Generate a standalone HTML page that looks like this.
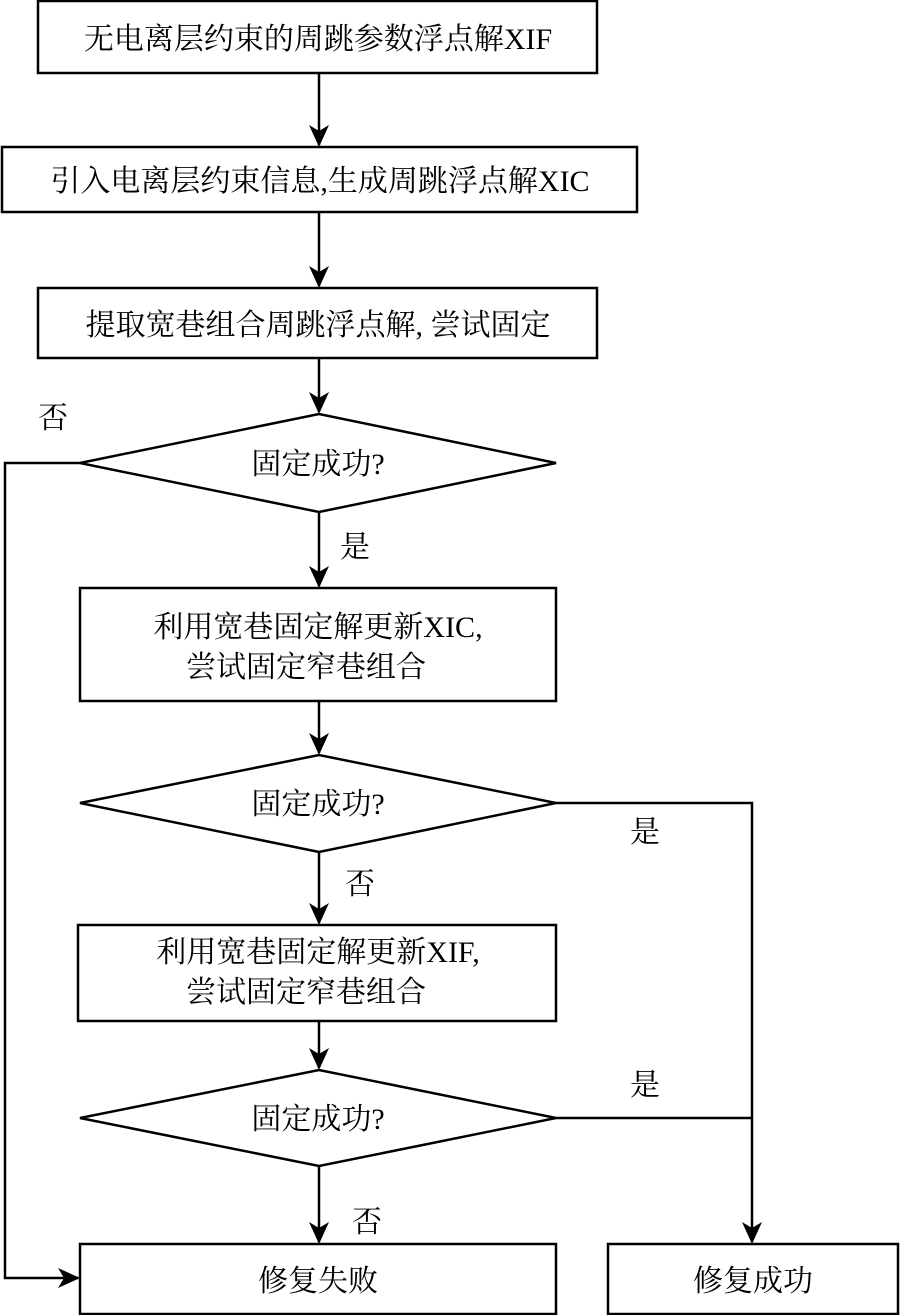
<!DOCTYPE html>
<html><head><meta charset="utf-8"><style>
html,body{margin:0;padding:0;background:#fff;}
svg{display:block;}
text{font-family:"Liberation Serif","Noto Serif CJK SC","Noto Sans CJK SC",serif;font-size:30px;fill:#000;}
</style></head><body>
<svg width="900" height="1315" viewBox="0 0 900 1315" xmlns="http://www.w3.org/2000/svg">
<defs>
<marker id="a" markerWidth="24" markerHeight="24" refX="20" refY="12" orient="auto" markerUnits="userSpaceOnUse">
<path d="M0,2 L22,12 L0,22 L6,12 Z" fill="#000"/>
</marker>
</defs>
<g fill="none" stroke="#000" stroke-width="2.5">
<rect x="38" y="1" width="559" height="72"/>
<rect x="2" y="147" width="635" height="65"/>
<rect x="38" y="288" width="559" height="70"/>
<polygon points="80,463 319,414 556,463 319,512"/>
<rect x="80" y="588" width="476" height="113"/>
<polygon points="80,803 319,755 556,803 319,852"/>
<rect x="78" y="925" width="478" height="96"/>
<polygon points="80,1118 319,1070 556,1118 319,1166"/>
<rect x="80" y="1244" width="476" height="70"/>
<rect x="608" y="1244" width="290" height="70"/>
<line x1="319" y1="73" x2="319" y2="145" marker-end="url(#a)"/>
<line x1="319" y1="212" x2="319" y2="286" marker-end="url(#a)"/>
<line x1="319" y1="358" x2="319" y2="412" marker-end="url(#a)"/>
<line x1="319" y1="512" x2="319" y2="586" marker-end="url(#a)"/>
<line x1="319" y1="701" x2="319" y2="753" marker-end="url(#a)"/>
<line x1="319" y1="852" x2="319" y2="923" marker-end="url(#a)"/>
<line x1="319" y1="1021" x2="319" y2="1068" marker-end="url(#a)"/>
<line x1="319" y1="1166" x2="319" y2="1242" marker-end="url(#a)"/>
<polyline points="80,463 5,463 5,1278 78,1278" marker-end="url(#a)"/>
<polyline points="556,803 752,803 752,1242" marker-end="url(#a)"/>
<line x1="556" y1="1118" x2="752" y2="1118"/>
</g>
<g text-anchor="middle">
<text x="318" y="49">无电离层约束的周跳参数浮点解XIF</text>
<text x="320" y="191">引入电离层约束信息,生成周跳浮点解XIC</text>
<text x="318" y="335">提取宽巷组合周跳浮点解, 尝试固定</text>
<text x="318" y="474">固定成功?</text>
<text x="318" y="637">利用宽巷固定解更新XIC,</text>
<text x="306" y="677">尝试固定窄巷组合</text>
<text x="318" y="814">固定成功?</text>
<text x="318" y="962">利用宽巷固定解更新XIF,</text>
<text x="306" y="1002">尝试固定窄巷组合</text>
<text x="318" y="1129">固定成功?</text>
<text x="318" y="1291">修复失败</text>
<text x="753" y="1291">修复成功</text>
<text x="53" y="428">否</text>
<text x="355" y="557">是</text>
<text x="645" y="842">是</text>
<text x="360" y="894">否</text>
<text x="645" y="1095">是</text>
<text x="367" y="1232">否</text>
</g>
</svg>
</body></html>
